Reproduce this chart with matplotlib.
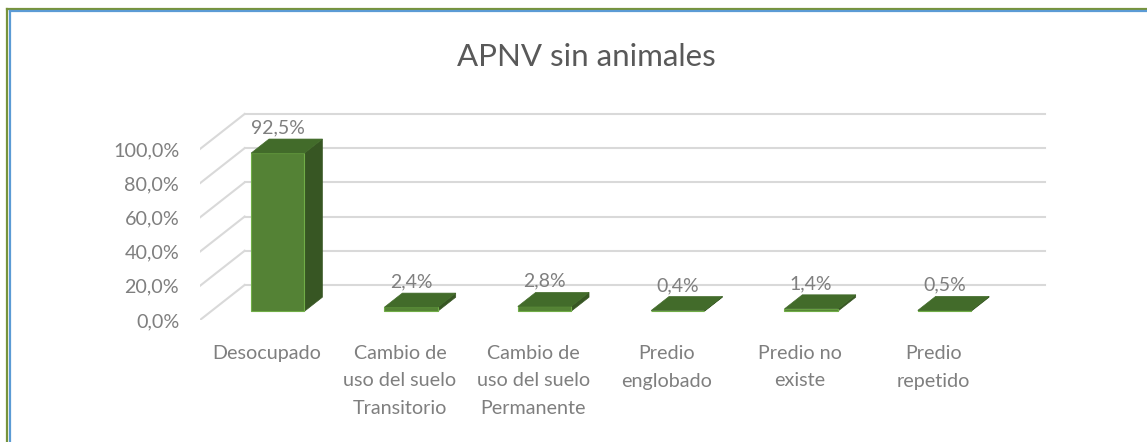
import matplotlib
matplotlib.use("Agg")
import matplotlib.pyplot as plt
from matplotlib.patches import Polygon
from matplotlib.lines import Line2D
from matplotlib import font_manager

# data
categories = ["Desocupado", "Cambio de\nuso del suelo\nTransitorio", "Cambio de\nuso del suelo\nPermanente",
              "Predio\nenglobado", "Predio no\nexiste", "Predio\nrepetido"]
values = [92.5, 2.4, 2.8, 0.4, 1.4, 0.5]
y_ticks = [0, 20, 40, 60, 80, 100]
title = "APNV sin animales"

names = {f.name for f in font_manager.fontManager.ttflist}
font = next((f for f in ["Lato", "Open Sans", "Roboto", "DejaVu Sans"] if f in names), "DejaVu Sans")
plt.rcParams["font.family"] = [font, "DejaVu Sans"]

txt = "#7f7f7f"
grid_c = "#d9d9d9"
front_c, side_c, top_c = "#548235", "#375623", "#426b2a"

# oblique "3d" depth offset (data units) and bar depth span
DX, DY = 0.335, 20.5
f0, f1 = 0.25, 0.65
half = 0.2

W, H = 1147, 442
fig = plt.figure(figsize=(W / 100, H / 100), dpi=100)
ax = fig.add_axes([200 / W, 122 / H, 850 / W, 220 / H])
ax.set_xlim(-0.5, -0.5 + 850 / 133.33)
ax.set_ylim(0, 220 / 1.71)
for s in ax.spines.values():
    s.set_visible(False)

# walls gridlines
n = len(categories)
for t in y_ticks:
    ax.plot([-0.5 + DX, n - 0.5 + DX], [t + DY, t + DY], color=grid_c, lw=1.5, zorder=1)
    ax.plot([-0.5, -0.5 + DX], [t, t + DY], color=grid_c, lw=1.5, zorder=1)

# bars
for i, v in enumerate(values):
    x0, x1 = i - half, i + half
    front = [(x0 + f0 * DX, f0 * DY), (x1 + f0 * DX, f0 * DY),
             (x1 + f0 * DX, v + f0 * DY), (x0 + f0 * DX, v + f0 * DY)]
    side = [(x1 + f0 * DX, f0 * DY), (x1 + f1 * DX, f1 * DY),
            (x1 + f1 * DX, v + f1 * DY), (x1 + f0 * DX, v + f0 * DY)]
    top = [(x0 + f0 * DX, v + f0 * DY), (x1 + f0 * DX, v + f0 * DY),
           (x1 + f1 * DX, v + f1 * DY), (x0 + f1 * DX, v + f1 * DY)]
    ax.add_patch(Polygon(side, closed=True, fc=side_c, ec=side_c, lw=0.5, zorder=3))
    ax.add_patch(Polygon(front, closed=True, fc=front_c, ec="#70ad47", lw=0.8, zorder=4))
    ax.add_patch(Polygon(top, closed=True, fc=top_c, ec=top_c, lw=0.5, zorder=5))
    ax.text(i + f0 * DX, v + f1 * DY + 6.5, f"{v:.1f}%".replace(".", ","),
            ha="center", va="center", fontsize=14, color=txt, zorder=6)

ax.set_yticks(y_ticks, [f"{t:.1f}%".replace(".", ",") for t in y_ticks])
ax.set_xticks(range(n), categories)
ax.tick_params(axis="y", length=0, pad=15, labelsize=14.2, labelcolor=txt)
ax.tick_params(axis="x", length=0, pad=18, labelsize=14.2, labelcolor=txt)
for lbl in ax.get_xticklabels():
    lbl.set_linespacing(1.75)

fig.text(586 / W, 1 - 57 / H, title, ha="center", va="center", fontsize=22.5, color="#595959")

# chart frame (green outer, blue inner)
fig.add_artist(Line2D([7.5 / W, 1], [1 - 8.5 / H, 1 - 8.5 / H], color="#77933c", lw=1.6))
fig.add_artist(Line2D([7.5 / W, 7.5 / W], [0, 1 - 8.5 / H], color="#77933c", lw=1.6))
fig.add_artist(Line2D([9.8 / W, 1], [1 - 10.5 / H, 1 - 10.5 / H], color="#5b9bd5", lw=1.6))
fig.add_artist(Line2D([9.8 / W, 9.8 / W], [0, 1 - 10.5 / H], color="#5b9bd5", lw=1.6))

fig.savefig("out.png", dpi=100, facecolor="white")
